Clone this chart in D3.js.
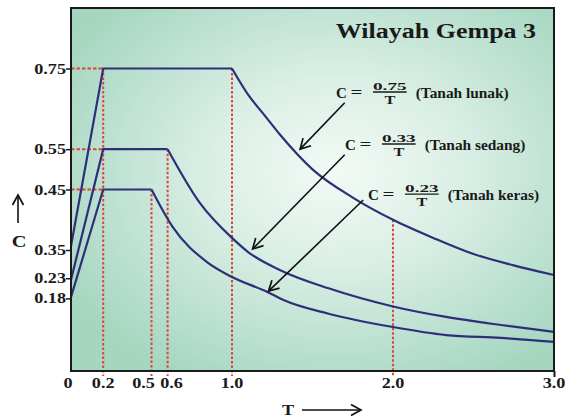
<!DOCTYPE html>
<html>
<head>
<meta charset="utf-8">
<script src="https://cdn.jsdelivr.net/npm/d3@7"></script>
<style>
  body { margin: 0; background: #fff; }
  text { font-family: "Liberation Serif", "Times New Roman", Tinos, serif; font-weight: bold; fill: #1a1a1a; }
</style>
</head>
<body>
<div id="chart"></div>
<script>
// Periode T dan koefisien C
var periodLunak = [0, 0.2, 1.0, 1.1, 1.2, 1.3, 1.5, 1.75, 2.0, 2.25, 2.5, 2.75, 3.0];
var cLunak = [0.31, 0.75, 0.75, 0.685, 0.635, 0.585, 0.5, 0.43, 0.375, 0.33, 0.29, 0.262, 0.238];
var periodSedang = [0, 0.2, 0.6, 0.8, 1.0, 1.1, 1.3, 1.6, 2.0, 2.33, 2.67, 3.0];
var cSedang = [0.226, 0.55, 0.55, 0.417, 0.33, 0.295, 0.25, 0.205, 0.16, 0.134, 0.114, 0.097];
var periodKeras = [0, 0.2, 0.5, 0.63, 0.845, 1.0, 1.22, 1.32, 1.6, 2.0, 2.33, 2.67, 3.0];
var cKeras = [0.183, 0.45, 0.45, 0.358, 0.27, 0.233, 0.196, 0.176, 0.142, 0.109, 0.089, 0.082, 0.072];

var soilNames = ["Tanah lunak", "Tanah sedang", "Tanah keras"];
var soilAr = ["0.75", "0.33", "0.23"];

// garis bantu merah
var guideT = [0.2, 0.5, 0.6, 1.0, 2.0];
var guideTop = [0.75, 0.45, 0.55, 0.75, 0.375];
var guideLevels = [0.75, 0.55, 0.45];

var xTickValues = [0, 0.2, 0.5, 0.6, 1.0, 2.0, 3.0];
var xTickLabels = ["0", "0.2", "0.5", "0.6", "1.0", "2.0", "3.0"];
var yTickValues = [0.18, 0.23, 0.30, 0.45, 0.55, 0.75];
var yTickLabels = ["0.18", "0.23", "0.35", "0.45", "0.55", "0.75"];

var w = 566, h = 417;
var margin = { top: 8, right: 12, bottom: 46, left: 71 };
var width = w - margin.left - margin.right;
var height = h - margin.top - margin.bottom;

var svg = d3.select("#chart").append("svg")
  .attr("width", w)
  .attr("height", h);

var defs = svg.append("defs");
var grad = defs.append("radialGradient")
  .attr("id", "bg")
  .attr("cx", "55%").attr("cy", "45%").attr("r", "65%");
grad.append("stop").attr("offset", "0%").attr("stop-color", "#f3faf6");
grad.append("stop").attr("offset", "40%").attr("stop-color", "#daefe5");
grad.append("stop").attr("offset", "100%").attr("stop-color", "#a5d6c0");

defs.append("marker")
  .attr("id", "head")
  .attr("viewBox", "-12 -7 14 14")
  .attr("refX", 0).attr("refY", 0)
  .attr("markerWidth", 14).attr("markerHeight", 14)
  .attr("markerUnits", "userSpaceOnUse")
  .attr("orient", "auto")
  .append("path")
  .attr("d", "M-10,-5.5 L0,0 L-10,5.5")
  .attr("fill", "none")
  .attr("stroke", "#111")
  .attr("stroke-width", 1.7);

var g = svg.append("g")
  .attr("transform", "translate(" + margin.left + "," + margin.top + ")");

var x = d3.scaleLinear().domain([0, 3]).range([0, width]);
var y = d3.scaleLinear().domain([0, 0.9]).range([height, 0]);

g.append("rect")
  .attr("width", width)
  .attr("height", height)
  .attr("fill", "url(#bg)");

function stretched(parent, px, py, str, size, sx, anchor) {
  return parent.append("text")
    .attr("transform", "translate(" + px + "," + py + ") scale(" + sx + ",1)")
    .attr("text-anchor", anchor || "start")
    .style("font-size", size + "px")
    .text(str);
}

// garis putus-putus merah
var red = "#d8473b";
g.selectAll(".vguide")
  .data(guideT)
  .enter()
  .append("line")
  .attr("x1", function(d) { return x(d); })
  .attr("x2", function(d) { return x(d); })
  .attr("y1", function(d, i) { return y(guideTop[i]); })
  .attr("y2", height + 5)
  .attr("stroke", red)
  .attr("stroke-width", 2)
  .attr("stroke-dasharray", "2.5,2");

g.selectAll(".hguide")
  .data(guideLevels)
  .enter()
  .append("line")
  .attr("x1", 0)
  .attr("x2", x(0.2))
  .attr("y1", function(d) { return y(d); })
  .attr("y2", function(d) { return y(d); })
  .attr("stroke", red)
  .attr("stroke-width", 2)
  .attr("stroke-dasharray", "3.5,2");

// kurva spektrum
var series = [
  { T: periodLunak, C: cLunak },
  { T: periodSedang, C: cSedang },
  { T: periodKeras, C: cKeras }
];

var straight = d3.line().x(function(d) { return x(d[0]); }).y(function(d) { return y(d[1]); });
var smooth = d3.line().curve(d3.curveMonotoneX).x(function(d) { return x(d[0]); }).y(function(d) { return y(d[1]); });

series.forEach(function(s) {
  var pts = s.T.map(function(t, i) { return [t, s.C[i]]; });
  var top = d3.max(s.C);
  var flatEnd = d3.max(pts, function(p, i) { return p[1] === top ? i : -1; });
  g.append("path")
    .attr("d", straight(pts.slice(0, flatEnd + 1)))
    .attr("fill", "none")
    .attr("stroke", "#2e2f78")
    .attr("stroke-width", 2.2);
  g.append("path")
    .attr("d", smooth(pts.slice(flatEnd)))
    .attr("fill", "none")
    .attr("stroke", "#2e2f78")
    .attr("stroke-width", 2.2);
});

// bingkai
g.append("rect")
  .attr("width", width)
  .attr("height", height)
  .attr("fill", "none")
  .attr("stroke", "#1a1a1a")
  .attr("stroke-width", 2);

// sumbu y
var yAxis = g.append("g")
  .call(d3.axisLeft(y).tickValues(yTickValues).tickSize(5).tickFormat(""));
yAxis.select(".domain").remove();
yAxis.selectAll("line").attr("stroke", "#1a1a1a").attr("stroke-width", 1.5);
yTickValues.forEach(function(v, i) {
  stretched(g, -5, y(v) + 5, yTickLabels[i], 14, 1.3, "end");
});

// sumbu x (label 0.5 dan 0.6 digeser agar tidak bertumpuk)
var xLabelShift = { "0": -3, "0.5": -8, "0.6": 4 };
var xAxis = g.append("g")
  .attr("transform", "translate(0," + height + ")")
  .call(d3.axisBottom(x).tickValues([3.0]).tickSize(6).tickFormat(""));
xAxis.select(".domain").remove();
xAxis.selectAll("line").attr("stroke", "#1a1a1a").attr("stroke-width", 2);
xTickValues.forEach(function(v, i) {
  var dx = xLabelShift[xTickLabels[i]] || 0;
  stretched(g, x(v) + dx, height + 17, xTickLabels[i], 14, 1.3, "middle");
});

// label sumbu
svg.append("line")
  .attr("x1", 18).attr("y1", 223).attr("x2", 18).attr("y2", 195)
  .attr("stroke", "#111").attr("stroke-width", 1.6)
  .attr("marker-end", "url(#head)");
stretched(svg, 19, 247, "C", 17, 1.2, "middle");
stretched(svg, 288, 415, "T", 14, 1.3, "middle");
svg.append("line")
  .attr("x1", 302).attr("y1", 410).attr("x2", 361).attr("y2", 410)
  .attr("stroke", "#111").attr("stroke-width", 1.6)
  .attr("marker-end", "url(#head)");

// judul
stretched(g, x(1.645), y(0.825), "Wilayah Gempa 3", 20, 1.3, "start");

// rumus dan panah
var rowT = [1.646, 1.702, 1.845];
var rowC = [0.678, 0.549, 0.425];
var arrowFrom = [[1.70, 0.665], [1.70, 0.536], [1.815, 0.424]];
var arrowTo = [[1.423, 0.55], [1.128, 0.3025], [1.227, 0.198]];

soilNames.forEach(function(name, i) {
  var bx = x(rowT[i]), by = y(rowC[i]);
  stretched(g, bx, by, "C", 15, 1.0, "start");
  stretched(g, bx + 14.5, by - 1, "=", 15, 1.4, "start");
  var num = stretched(g, 0, 0, soilAr[i], 11, 1.75, "middle");
  var nw = num.node().getComputedTextLength() * 1.75;
  var fx = bx + 37 + nw / 2;
  num.attr("transform", "translate(" + fx + "," + (by - 8) + ") scale(1.75,1)");
  g.append("line")
    .attr("x1", fx - nw / 2).attr("x2", fx + nw / 2)
    .attr("y1", by - 5.5).attr("y2", by - 5.5)
    .attr("stroke", "#1a1a1a").attr("stroke-width", 1.4);
  stretched(g, fx, by + 6, "T", 12, 1.35, "middle");
  stretched(g, fx + nw / 2 + 9, by, "(" + name + ")", 14, 1.1, "start");

  g.append("line")
    .attr("x1", x(arrowFrom[i][0])).attr("y1", y(arrowFrom[i][1]))
    .attr("x2", x(arrowTo[i][0])).attr("y2", y(arrowTo[i][1]))
    .attr("stroke", "#111").attr("stroke-width", 1.6)
    .attr("marker-end", "url(#head)");
});
</script>
</body>
</html>
